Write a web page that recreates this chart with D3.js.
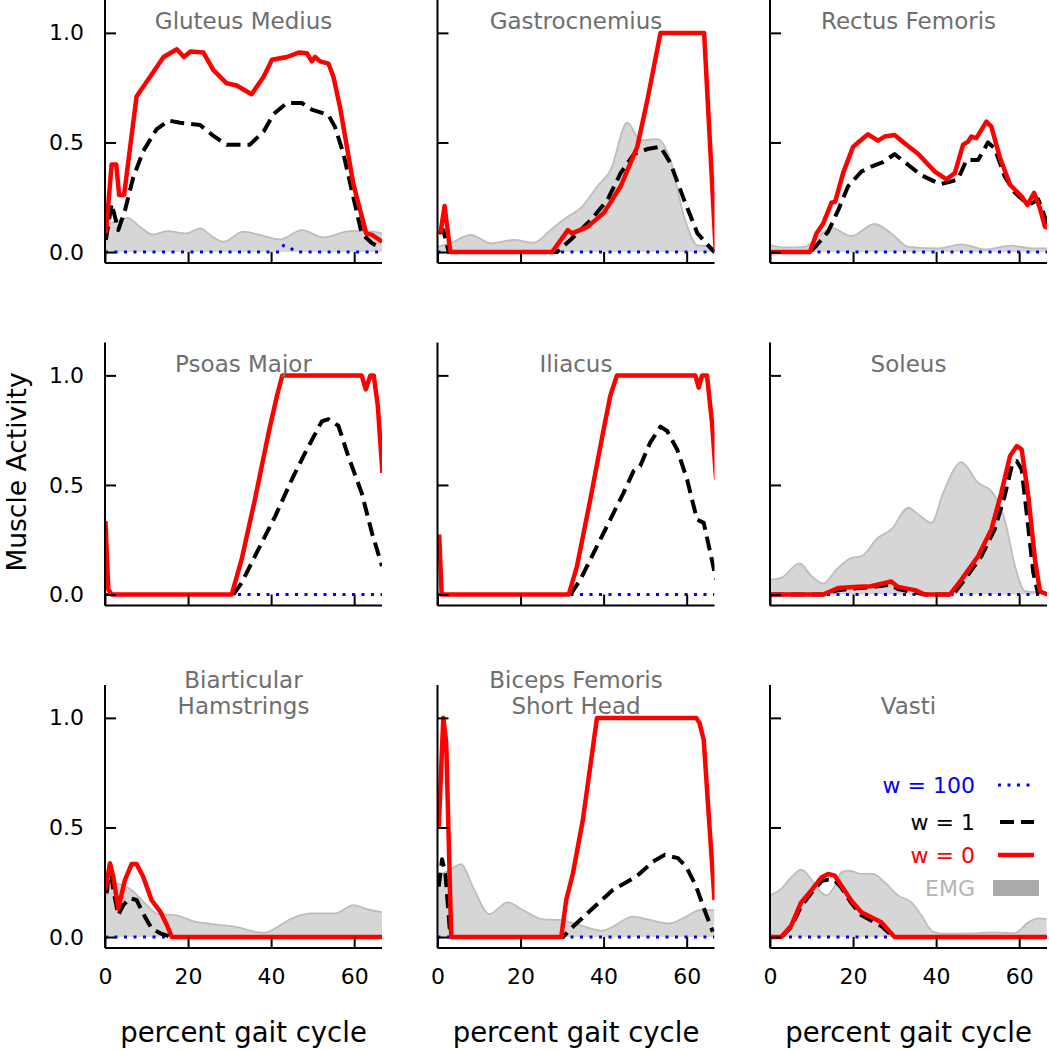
<!DOCTYPE html>
<html><head><meta charset="utf-8">
<script src="https://d3js.org/d3.v7.min.js"></script>
<style>body{margin:0;background:#fff}svg{display:block}</style>
</head><body>
<script>
// ---------------- DATA ----------------
const muscles = ["Gluteus Medius","Gastrocnemius","Rectus Femoris","Psoas Major","Iliacus","Soleus","Biarticular\nHamstrings","Biceps Femoris\nShort Head","Vasti"];
const xTicks = [0,20,40,60];
const yTicks = [0,0.5,1.0];
const yTickLabels = ["0.0","0.5","1.0"];
const legendLabels = ["w = 100","w = 1","w = 0","EMG"];

// w = 0 (red)
const red0 = [[0.2,0.085],[1.6,0.40],[2.7,0.40],[3.4,0.26],[4.6,0.26],[7.6,0.71],[11.6,0.82],[14.1,0.89],[17.3,0.925],[19.0,0.89],[20.6,0.915],[23.7,0.91],[26.1,0.83],[29.3,0.77],[31.7,0.76],[35.3,0.72],[38.2,0.80],[40.2,0.877],[43.8,0.89],[46.6,0.91],[48.6,0.907],[49.8,0.87],[50.6,0.89],[51.8,0.87],[53.8,0.86],[55.0,0.80],[56.6,0.66],[59.8,0.31],[62.9,0.085],[64.3,0.078],[66.7,0.047]];
const red1 = [[0.7,0.085],[1.7,0.21],[3.1,0],[27.6,0],[31.4,0.10],[32.4,0.085],[36.1,0.115],[40.1,0.18],[44.1,0.30],[48.1,0.48],[50.5,0.69],[53.7,1.0],[64.2,1.0],[67.0,0]];
const red2 = [[0,0],[9.6,0],[11.2,0.085],[12.8,0.13],[14.8,0.225],[15.7,0.23],[17.6,0.36],[20.0,0.48],[21.2,0.50],[23.6,0.537],[26.0,0.508],[27.6,0.527],[30.0,0.534],[32.4,0.496],[35.7,0.447],[39.7,0.367],[42.5,0.332],[44.5,0.36],[46.5,0.49],[47.7,0.504],[48.5,0.527],[49.7,0.52],[52.1,0.595],[53.3,0.572],[55.3,0.435],[57.8,0.307],[60.6,0.253],[62.0,0.215],[63.6,0.27],[65.0,0.20],[66.2,0.116],[66.8,0.11]];
const red3 = [[0.1,0.335],[0.8,0.023],[1.6,0],[30.5,0],[32.9,0.16],[36.1,0.434],[39.4,0.738],[41.4,0.906],[42.7,1.0],[61.8,1.0],[62.8,0.936],[63.9,1.0],[64.7,1.0],[65.7,0.86],[66.8,0.555]];
const red4 = [[0.4,0.274],[1.0,0],[31.6,0],[33.6,0.13],[36.8,0.434],[40.0,0.753],[41.6,0.906],[43.2,1.0],[62.1,1.0],[62.9,0.944],[63.7,1.0],[64.9,1.0],[66.1,0.784],[67.1,0.525]];
const red5 = [[0,0],[12.8,0],[16.4,0.03],[21.2,0.035],[24.3,0.038],[29.2,0.06],[30.8,0.035],[34.9,0.02],[37.3,0],[43.3,0],[46.1,0.068],[50.1,0.175],[53.3,0.297],[55.7,0.464],[57.8,0.632],[59.4,0.677],[60.6,0.662],[62.2,0.449],[63.8,0.16],[65.0,0.015],[66.8,0]];
const red6 = [[0.1,0.215],[1.2,0.336],[2.0,0.275],[3.2,0.13],[4.8,0.26],[6.4,0.333],[7.6,0.333],[9.2,0.275],[11.2,0.169],[13.3,0.116],[14.9,0.055],[16.1,0],[66.7,0]];
const red7 = [[0.3,0.5],[1.4,1.0],[2.1,0.886],[3.3,0],[29.8,0],[31.0,0.169],[32.6,0.29],[35.0,0.534],[37.0,0.808],[38.4,1.0],[62.3,1.0],[63.1,0.976],[64.1,0.9],[65.5,0.504],[66.7,0.169]];
const red8 = [[0,0],[2.7,0],[5.1,0.052],[7.5,0.158],[9.9,0.212],[12.4,0.272],[14.0,0.288],[15.6,0.28],[17.2,0.234],[19.6,0.166],[22.0,0.113],[24.4,0.09],[26.8,0.067],[30.0,0],[66.6,0]];

// w = 1 (black dashed)
const blk0 = [[0.2,0.055],[1.6,0.22],[3.2,0.10],[4.8,0.19],[6.8,0.34],[9.2,0.46],[12.4,0.56],[15.3,0.60],[18.1,0.59],[22.9,0.58],[26.1,0.53],[29.3,0.49],[34.9,0.49],[38.2,0.55],[40.6,0.63],[43.8,0.68],[47.4,0.68],[49.8,0.65],[53.8,0.625],[55.4,0.57],[57.4,0.45],[59.8,0.25],[61.8,0.085],[64.3,0.04],[66.7,0.017]];
const blk1 = [[0.3,0.085],[1.4,0.10],[2.7,0],[28.8,0],[32.0,0.055],[36.9,0.146],[40.9,0.237],[44.1,0.36],[47.3,0.447],[50.5,0.47],[53.7,0.48],[56.1,0.405],[59.4,0.237],[62.6,0.085],[66.6,0]];
const blk2 = [[0,0],[9.6,0],[11.2,0.03],[14.0,0.093],[16.4,0.19],[18.8,0.30],[22.0,0.367],[24.4,0.39],[27.2,0.41],[30.0,0.447],[33.3,0.397],[36.5,0.35],[40.9,0.31],[43.3,0.32],[45.3,0.332],[47.3,0.42],[50.1,0.42],[52.5,0.50],[54.1,0.473],[56.5,0.345],[59.0,0.27],[61.4,0.23],[63.0,0.222],[64.6,0.24],[66.2,0.16],[66.8,0.116]];
const blk3 = [[30.9,0],[32.9,0.053],[36.1,0.175],[41.0,0.358],[45.0,0.525],[48.2,0.647],[52.2,0.79],[53.8,0.80],[56.2,0.77],[58.6,0.63],[61.8,0.464],[64.3,0.28],[66.7,0.13]];
const blk4 = [[32.0,0],[34.4,0.068],[37.6,0.19],[41.6,0.342],[44.8,0.464],[47.2,0.563],[48.8,0.586],[51.2,0.693],[53.7,0.766],[55.3,0.746],[57.7,0.662],[60.1,0.525],[62.5,0.342],[64.1,0.327],[65.7,0.19],[67.1,0.068]];
const blk5 = [[0,0],[12.8,0],[16.4,0.02],[21.2,0.03],[24.3,0.033],[29.2,0.045],[30.8,0.025],[34.9,0.01],[37.3,0],[44.1,0],[46.9,0.068],[50.9,0.175],[54.1,0.297],[56.5,0.449],[58.2,0.586],[59.4,0.609],[60.6,0.57],[61.8,0.373],[63.4,0.1],[64.6,0]];
const blk6 = [[0.4,0.2],[1.2,0.336],[2.0,0.215],[3.2,0.1],[4.4,0.146],[6.0,0.177],[7.6,0.169],[9.6,0.093],[11.2,0.04],[13.3,0.017],[16.1,0]];
const blk7 = [[0.3,0.23],[1.1,0.355],[1.9,0.29],[2.9,0.047],[3.3,0],[30.2,0],[32.6,0.047],[37.4,0.131],[42.2,0.215],[47.9,0.276],[51.9,0.344],[54.7,0.375],[57.9,0.36],[59.9,0.32],[62.3,0.23],[64.3,0.123],[66.3,0.024]];
const blk8 = [[2.7,0],[5.1,0.045],[7.5,0.14],[9.9,0.2],[12.4,0.255],[14.0,0.262],[15.6,0.26],[17.2,0.225],[19.6,0.155],[22.0,0.1],[24.4,0.075],[26.8,0.05],[29.2,0.01],[30.0,0]];

// w = 100 (blue dotted)
const blu0 = [[0,0],[42.0,0],[43.0,0.03],[44.5,0.02],[46.0,0],[66.7,0]];
const bluFlat = [[0,0],[66.7,0]];

// EMG (grey area); null = no EMG shown
const emg0 = [[0,0.115],[2.4,0.14],[5.6,0.155],[8.4,0.115],[11.6,0.08],[14.9,0.095],[19.7,0.085],[22.9,0.108],[26.1,0.067],[28.5,0.047],[33.3,0.093],[37.3,0.078],[42.2,0.058],[47.4,0.10],[52.6,0.067],[59.0,0.095],[63.1,0.095],[66.7,0.085]];
const emg1 = [[0,0.025],[3,0.04],[8,0.078],[12.8,0.04],[18.4,0.055],[23.2,0.043],[27.2,0.10],[31.2,0.16],[34.5,0.20],[38.5,0.30],[41.7,0.375],[45.7,0.59],[48.9,0.51],[52.9,0.515],[56.1,0.42],[59.4,0.16],[62.6,0.03],[65.8,0.025],[67,0.01]];
const emg2 = [[0,0.033],[3.5,0.021],[8.4,0.024],[10.8,0.055],[14.8,0.11],[19.6,0.073],[25.2,0.128],[29.2,0.085],[33.3,0.024],[40.5,0.017],[46.1,0.035],[51.7,0.012],[58.2,0.029],[63.0,0.017],[66.8,0.017]];
const emg5 = [[0,0.068],[2.7,0.076],[7.1,0.142],[10.0,0.084],[12.8,0.05],[16.0,0.114],[19.6,0.167],[22.0,0.175],[26.0,0.259],[29.2,0.297],[33.3,0.396],[35.7,0.365],[38.9,0.327],[41.7,0.464],[46.1,0.604],[50.1,0.51],[53.3,0.472],[56.5,0.342],[59.0,0.13],[61.4,0.015],[66.8,0.008]];
const emg6 = [[0.2,0.184],[2.0,0.245],[6.4,0.215],[9.6,0.154],[12.9,0.105],[16.9,0.10],[21.7,0.07],[25.7,0.059],[32.1,0.044],[36.1,0.024],[38.6,0.02],[41.0,0.04],[44.2,0.078],[49.8,0.108],[55.4,0.108],[59.8,0.146],[62.7,0.13],[66.7,0.113]];
const emg7 = [[0.3,0.283],[2.9,0.306],[5.7,0.333],[8.5,0.23],[12.5,0.105],[16.9,0.158],[20.6,0.123],[25.4,0.081],[29.4,0.078],[34.2,0.055],[39.8,0.029],[42.2,0.047],[47.1,0.093],[51.1,0.078],[55.9,0.062],[59.9,0.093],[63.1,0.123],[66.7,0.123]];
const emg8 = [[0,0.19],[2.7,0.22],[5.1,0.272],[7.5,0.307],[9.9,0.265],[11.9,0.212],[13.6,0.19],[15.2,0.22],[17.2,0.295],[19.2,0.303],[22.0,0.288],[24.8,0.288],[27.6,0.25],[30.8,0.19],[34.1,0.158],[36.5,0.097],[39.3,0.024],[42.1,0.015],[49.3,0.017],[53.3,0.021],[59.0,0.018],[62.2,0.067],[64.6,0.085],[66.6,0.082]];

const redSeries = [red0,red1,red2,red3,red4,red5,red6,red7,red8];
const blackSeries = [blk0,blk1,blk2,blk3,blk4,blk5,blk6,blk7,blk8];
const blueSeries = [blu0,bluFlat,bluFlat,bluFlat,bluFlat,bluFlat,bluFlat,bluFlat,bluFlat];
const emgSeries = [emg0,emg1,emg2,null,null,emg5,emg6,emg7,emg8];

// ---------------- LAYOUT ----------------
const W = 1049, H = 1050;
const colLeft = [105, 437.5, 770];
const rowTop = [0, 342.5, 685];
const pw = 277, ph = 263;
const FONT = "'DejaVu Sans', sans-serif";

const svg = d3.select("body").append("svg").attr("width", W).attr("height", H)
  .style("font-family", FONT);

const x = d3.scaleLinear().domain([0, 66.7]).range([0, pw]);
const y = d3.scaleLinear().domain([-0.05, 1.15]).range([ph, 0]);

const line = d3.line().x(d => x(d[0])).y(d => y(d[1]));
const area = d3.area().x(d => x(d[0])).y0(y(0)).y1(d => y(d[1])).curve(d3.curveMonotoneX);
const emgLine = d3.line().x(d => x(d[0])).y(d => y(d[1])).curve(d3.curveMonotoneX);

const defs = svg.append("defs");
defs.append("clipPath").attr("id", "clip").append("rect")
  .attr("x", 0).attr("y", -20).attr("width", pw).attr("height", ph + 20);

muscles.forEach((name, i) => {
  const r = Math.floor(i / 3), c = i % 3;
  const g = svg.append("g").attr("transform", `translate(${colLeft[c]},${rowTop[r]})`);
  const plot = g.append("g").attr("clip-path", "url(#clip)");

  if (emgSeries[i]) {
    plot.append("path").datum(emgSeries[i]).attr("d", area)
      .attr("fill", "#d6d6d6").attr("stroke", "none");
    plot.append("path").datum(emgSeries[i]).attr("d", emgLine)
      .attr("fill", "none").attr("stroke", "#bdbdbd").attr("stroke-width", 1.8);
  }
  plot.append("path").datum(blueSeries[i]).attr("d", line)
    .attr("fill", "none").attr("stroke", "#0000ff").attr("stroke-width", 3)
    .attr("stroke-dasharray", "3,6.5");
  plot.append("path").datum(blackSeries[i]).attr("d", line)
    .attr("fill", "none").attr("stroke", "#000").attr("stroke-width", 4)
    .attr("stroke-dasharray", "14,7").attr("stroke-linejoin", "round");
  plot.append("path").datum(redSeries[i]).attr("d", line)
    .attr("fill", "none").attr("stroke", "#ff0000").attr("stroke-width", 4.5)
    .attr("stroke-linejoin", "round");

  // axes
  const xAxis = d3.axisBottom(x).tickValues(xTicks).tickSizeInner(-11).tickSizeOuter(0)
    .tickPadding(20).tickFormat(r === 2 ? d3.format("d") : () => "");
  const yAxis = d3.axisLeft(y).tickValues(yTicks).tickSizeInner(-11).tickSizeOuter(0)
    .tickPadding(21).tickFormat((d, k) => c === 0 ? yTickLabels[k] : "");
  const gx = g.append("g").attr("transform", `translate(0,${ph})`).call(xAxis);
  const gy = g.append("g").call(yAxis);
  [gx, gy].forEach(a => {
    a.select(".domain").attr("stroke", "#000").attr("stroke-width", 2);
    a.selectAll(".tick line").attr("stroke", "#000").attr("stroke-width", 2);
    a.selectAll(".tick text").attr("fill", "#000").style("font-size", "22px").style("font-family", FONT);
  });
  gx.selectAll(".tick text").attr("dy", "0.71em");
  gx.select(".domain").attr("d", `M0,0H${pw}`);
  gy.select(".domain").attr("d", `M0,${ph}V0`);

  // title
  const lines = name.split("\n");
  lines.forEach((t, k) => {
    g.append("text").attr("x", pw / 2).attr("y", 29 - (lines.length - 1 - k) * 26)
      .attr("text-anchor", "middle").attr("fill", "#6e6e6e")
      .style("font-size", "23px").text(t);
  });

  if (r === 2) {
    g.append("text").attr("x", pw / 2).attr("y", 1042 - rowTop[r])
      .attr("text-anchor", "middle").attr("fill", "#000")
      .style("font-size", "27.5px").text("percent gait cycle");
  }

  if (i === 8) {
    const lg = g.append("g");
    const ys = [100, 137, 170, 203];
    const cols = ["#0000ff", "#000", "#ff0000", "#b5b5b5"];
    legendLabels.forEach((t, k) => {
      lg.append("text").attr("x", 205).attr("y", ys[k] + 8).attr("text-anchor", "end")
        .attr("fill", cols[k]).style("font-size", "22px").text(t);
    });
    lg.append("line").attr("x1", 228).attr("x2", 262).attr("y1", ys[0]).attr("y2", ys[0])
      .attr("stroke", "#0000ff").attr("stroke-width", 3).attr("stroke-dasharray", "3,6.5");
    lg.append("line").attr("x1", 230).attr("x2", 264).attr("y1", ys[1]).attr("y2", ys[1])
      .attr("stroke", "#000").attr("stroke-width", 4).attr("stroke-dasharray", "14,7");
    lg.append("line").attr("x1", 228).attr("x2", 264).attr("y1", ys[2]).attr("y2", ys[2])
      .attr("stroke", "#ff0000").attr("stroke-width", 4.5);
    lg.append("rect").attr("x", 223).attr("y", ys[3] - 8).attr("width", 46).attr("height", 16)
      .attr("fill", "#aaaaaa");
  }
});

svg.append("text").attr("transform", "translate(26,472) rotate(-90)")
  .attr("text-anchor", "middle").attr("fill", "#000").style("font-size", "26.5px")
  .text("Muscle Activity");
</script>
</body></html>
